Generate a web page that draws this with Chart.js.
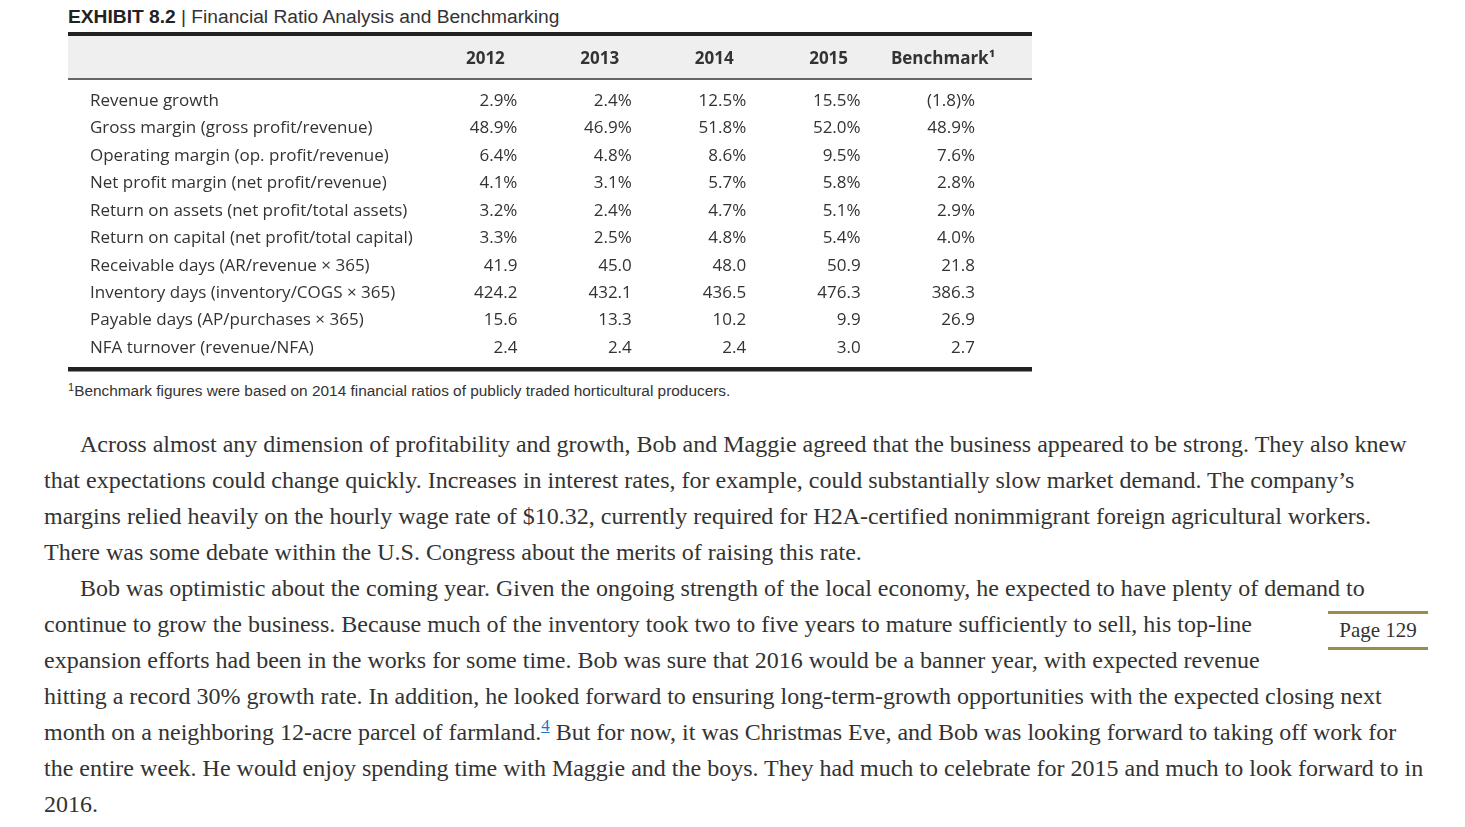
<!DOCTYPE html>
<html>
<head>
<meta charset="utf-8">
<title>Exhibit 8.2</title>
<script src="https://cdn.jsdelivr.net/npm/chart.js@4.4.1/dist/chart.umd.min.js"></script>
<style>
  body { margin: 0; width: 1465px; height: 827px; position: relative; overflow: hidden; background: #fff; color: #333; }
  .title { position: absolute; left: 68px; top: 6px; font: 19.2px "Liberation Sans", Arial, sans-serif; color: #333; white-space: nowrap; }
  .title b { color: #222; }
  #table-chart { position: absolute; left: 68px; top: 30px; }
  .note { position: absolute; left: 68px; top: 381px; font: 15.4px "Liberation Sans", Arial, sans-serif; color: #333; white-space: nowrap; }
  .note sup { font-size: 11px; vertical-align: 5px; }
  .text { position: absolute; left: 44px; top: 426px; font: 24px/36px "Liberation Serif", "Times New Roman", serif; color: #333; }
  .text div { white-space: nowrap; }
  .text .in { padding-left: 36px; }
  .text sup { font-size: 17px; vertical-align: 9px; line-height: 0; color: #1a73c8; text-decoration: underline; }
  .page { position: absolute; left: 1328px; top: 611px; width: 100px; height: 33px; border-top: 3px solid #9a8d45; border-bottom: 3px solid #9a8d45; font: 21px/33px "Liberation Serif", "Times New Roman", serif; text-align: center; color: #333; }
</style>
</head>
<body>

<div class="title"><b>EXHIBIT 8.2</b> | Financial Ratio Analysis and Benchmarking</div>
<canvas id="table-chart" width="964" height="345"></canvas>
<div class="note"><sup>1</sup>Benchmark figures were based on 2014 financial ratios of publicly traded horticultural producers.</div>

<div class="text">
  <div class="in">Across almost any dimension of profitability and growth, Bob and Maggie agreed that the business appeared to be strong. They also knew</div>
  <div>that expectations could change quickly. Increases in interest rates, for example, could substantially slow market demand. The company’s</div>
  <div>margins relied heavily on the hourly wage rate of $10.32, currently required for H2A-certified nonimmigrant foreign agricultural workers.</div>
  <div>There was some debate within the U.S. Congress about the merits of raising this rate.</div>
  <div class="in">Bob was optimistic about the coming year. Given the ongoing strength of the local economy, he expected to have plenty of demand to</div>
  <div>continue to grow the business. Because much of the inventory took two to five years to mature sufficiently to sell, his top-line</div>
  <div>expansion efforts had been in the works for some time. Bob was sure that 2016 would be a banner year, with expected revenue</div>
  <div>hitting a record 30% growth rate. In addition, he looked forward to ensuring long-term-growth opportunities with the expected closing next</div>
  <div>month on a neighboring 12-acre parcel of farmland.<sup>4</sup> But for now, it was Christmas Eve, and Bob was looking forward to taking off work for</div>
  <div>the entire week. He would enjoy spending time with Maggie and the boys. They had much to celebrate for 2015 and much to look forward to in</div>
  <div>2016.</div>
</div>
<div class="page">Page 129</div>

<script>
const columns = ['2012', '2013', '2014', '2015', 'Benchmark¹'];
const ratios = [
  'Revenue growth',
  'Gross margin (gross profit/revenue)',
  'Operating margin (op. profit/revenue)',
  'Net profit margin (net profit/revenue)',
  'Return on assets (net profit/total assets)',
  'Return on capital (net profit/total capital)',
  'Receivable days (AR/revenue × 365)',
  'Inventory days (inventory/COGS × 365)',
  'Payable days (AP/purchases × 365)',
  'NFA turnover (revenue/NFA)'
];
const units = ['%', '%', '%', '%', '%', '%', '', '', '', ''];

const y2012 = [2.9, 48.9, 6.4, 4.1, 3.2, 3.3, 41.9, 424.2, 15.6, 2.4];
const y2013 = [2.4, 46.9, 4.8, 3.1, 2.4, 2.5, 45.0, 432.1, 13.3, 2.4];
const y2014 = [12.5, 51.8, 8.6, 5.7, 4.7, 4.8, 48.0, 436.5, 10.2, 2.4];
const y2015 = [15.5, 52.0, 9.5, 5.8, 5.1, 5.4, 50.9, 476.3, 9.9, 3.0];
const benchmark = [-1.8, 48.9, 7.6, 2.8, 2.9, 4.0, 21.8, 386.3, 26.9, 2.7];

const colValues = [y2012, y2013, y2014, y2015, benchmark];
const tableFont = '"Open Sans", "Liberation Sans", sans-serif';

// negatives shown in brackets, e.g. (1.8)%
const fmt = (v, u) => v < 0 ? '(' + Math.abs(v).toFixed(1) + ')' + u : v.toFixed(1) + u;

// rules and header band, drawn across the whole canvas
const tableRules = {
  id: 'tableRules',
  beforeDraw(chart) {
    const ctx = chart.ctx;
    const w = chart.width;
    ctx.save();
    ctx.fillStyle = '#eeefee';
    ctx.fillRect(0, 6, w, 42);
    ctx.fillStyle = '#222';
    ctx.fillRect(0, 2, w, 4);
    ctx.fillRect(0, 337, w, 4.5);
    ctx.fillStyle = '#666';
    ctx.fillRect(0, 48, w, 2);
    ctx.restore();
  }
};

// the numbers in each cell, placed on the points' positions
const cellText = {
  id: 'cellText',
  afterDatasetsDraw(chart) {
    const ctx = chart.ctx;
    ctx.save();
    ctx.font = '17px ' + tableFont;
    ctx.fillStyle = '#333';
    ctx.textAlign = 'right';
    ctx.textBaseline = 'middle';
    chart.data.datasets.forEach((ds, di) => {
      chart.getDatasetMeta(di).data.forEach((pt, i) => {
        const d = ds.data[i];
        ctx.fillText(fmt(d.v, d.u), pt.x + 32, pt.y);
      });
    });
    ctx.restore();
  }
};

const chart = new Chart(document.getElementById('table-chart'), {
  type: 'scatter',
  data: {
    datasets: columns.map((col, c) => ({
      label: col,
      data: ratios.map((r, i) => ({ x: col, y: r, v: colValues[c][i], u: units[i] })),
      pointRadius: 0,
      pointHoverRadius: 0
    }))
  },
  options: {
    responsive: false,
    animation: false,
    devicePixelRatio: 1,
    events: [],
    layout: { padding: { left: 22, right: 31.8, top: 0, bottom: 13.3 } },
    plugins: { legend: { display: false }, tooltip: { enabled: false } },
    scales: {
      x: {
        type: 'category',
        labels: columns,
        position: 'top',
        offset: true,
        grid: { display: false, drawTicks: false },
        border: { display: false },
        ticks: {
          color: '#333',
          padding: 18,
          maxRotation: 0,
          autoSkip: false,
          font: { family: tableFont, size: 17, weight: 'bold' }
        },
        afterFit(s) { s.height = 57.3; }
      },
      y: {
        type: 'category',
        labels: ratios,
        position: 'left',
        offset: true,
        grid: { display: false, drawTicks: false },
        border: { display: false },
        ticks: {
          color: '#333',
          crossAlign: 'far',
          autoSkip: false,
          font: { family: tableFont, size: 17 }
        },
        afterFit(s) { s.width = 338.2; }
      }
    }
  },
  plugins: [tableRules, cellText]
});
</script>
</body>
</html>
